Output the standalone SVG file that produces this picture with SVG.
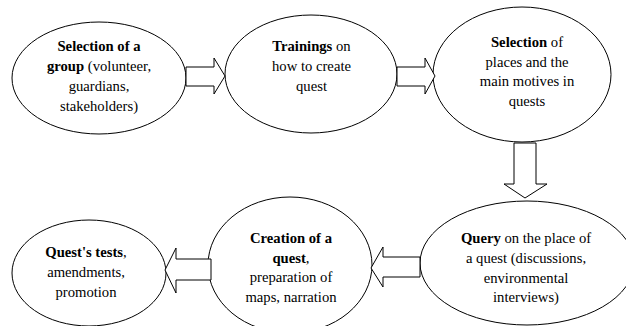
<svg xmlns="http://www.w3.org/2000/svg" width="626" height="326" viewBox="0 0 626 326">
<style>
.n{fill:#fff;stroke:#000;stroke-width:1}
.a{fill:#fff;stroke:#000;stroke-width:1;stroke-linejoin:miter}
.t{font-family:'Liberation Serif','Times New Roman',serif;font-size:14.67px;fill:#000;text-anchor:middle}
.b{font-weight:bold}
</style>
<rect width="626" height="326" fill="#fff"/>
<g id="n1">
<ellipse class="n" cx="99" cy="78" rx="87" ry="56"/>
<text class="t"><tspan x="99" y="51" class="b">Selection of a</tspan><tspan x="99" y="71"><tspan class="b">group</tspan> (volunteer,</tspan><tspan x="99" y="91">guardians,</tspan><tspan x="99" y="111">stakeholders)</tspan></text>
</g>
<g id="n2">
<ellipse class="n" cx="311" cy="74" rx="86" ry="59"/>
<text class="t"><tspan x="311.5" y="50.5"><tspan class="b">Trainings</tspan> on</tspan><tspan x="311.5" y="71">how to create</tspan><tspan x="311.5" y="91">quest</tspan></text>
</g>
<g id="n3">
<ellipse class="n" cx="522" cy="74.5" rx="89" ry="67.5"/>
<text class="t"><tspan x="527" y="47"><tspan class="b">Selection</tspan> of</tspan><tspan x="527" y="66.5">places and the</tspan><tspan x="527" y="86">main motives in</tspan><tspan x="527" y="106">quests</tspan></text>
</g>
<g id="n4">
<ellipse class="n" cx="527" cy="263" rx="107" ry="62"/>
<text class="t"><tspan x="526" y="243"><tspan class="b">Query</tspan> on the place of</tspan><tspan x="526" y="263">a quest (discussions,</tspan><tspan x="526" y="283">environmental</tspan><tspan x="526" y="302">interviews)</tspan></text>
</g>
<g id="n5">
<ellipse class="n" cx="290" cy="265" rx="82" ry="68"/>
<text class="t"><tspan x="291" y="243" class="b">Creation of a</tspan><tspan x="291" y="263"><tspan class="b">quest</tspan>,</tspan><tspan x="291" y="282">preparation of</tspan><tspan x="291" y="302">maps, narration</tspan></text>
</g>
<g id="n6">
<ellipse class="n" cx="89" cy="273" rx="77" ry="53"/>
<text class="t"><tspan x="86" y="257"><tspan class="b">Quest's tests</tspan>,</tspan><tspan x="86" y="277">amendments,</tspan><tspan x="86" y="297">promotion</tspan></text>
</g>
<g id="connectors">
<polygon class="a" points="186,67 214,67 214,58 225,76 214,94 214,86 186,86"/>
<polygon class="a" points="397,67 425,67 425,58 435,76 425,94 425,86 397,86"/>
<polygon class="a" points="514,143 536,143 536,184 547,184 525,198 504,184 514,184"/>
<polygon class="a" points="420,257 383,257 383,247 371,268 383,287 383,277 420,277"/>
<polygon class="a" points="211,259 176,259 176,248 165,270 176,293 176,280 211,280"/>
</g>
</svg>
